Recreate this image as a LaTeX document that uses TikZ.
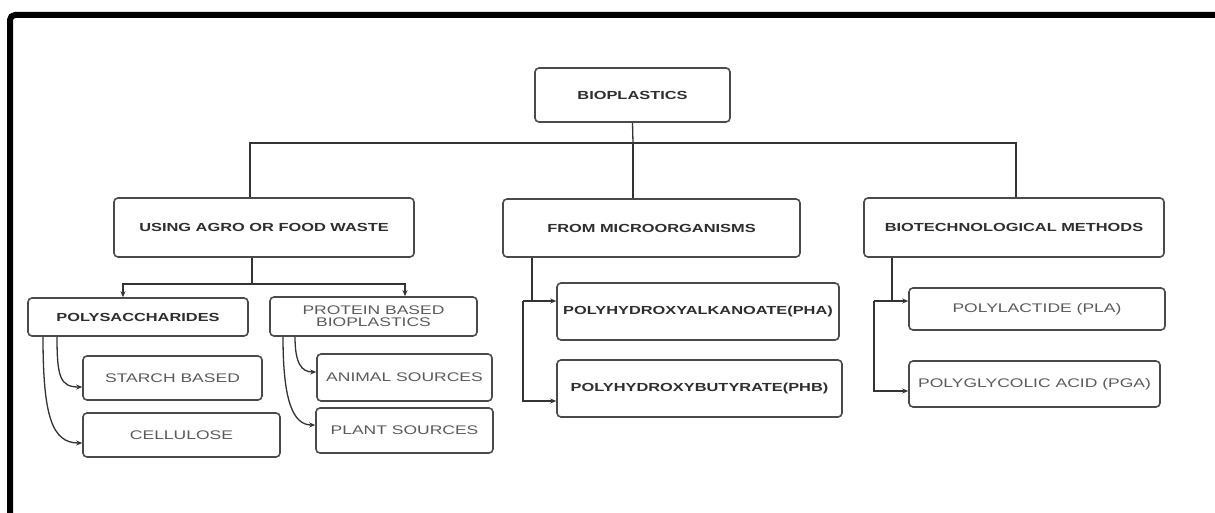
\documentclass[tikz,border=0pt]{standalone}
\usepackage{fontspec}
\setmainfont{Liberation Sans}
\newfontfamily\widefont{Liberation Sans}[FakeStretch=1.4]
\usetikzlibrary{arrows.meta}
\definecolor{boxline}{HTML}{4A4A4A}
\definecolor{linkline}{HTML}{333333}
\definecolor{headtext}{HTML}{2E2E2E}
\definecolor{subtext}{HTML}{5A5A5A}
\begin{document}
\begin{tikzpicture}[
x=1pt, y=-1pt,
box/.style={draw=boxline, line width=1.6pt, rounded corners=4pt, inner sep=0pt, align=center},
head/.style={box, text=headtext, font=\widefont\bfseries\fontsize{11.7}{13}\selectfont},
sub/.style={box, text=subtext, font=\widefont\fontsize{12.5}{12}\selectfont},
link/.style={draw=linkline, line width=1.3pt},
arr/.style={link, -{Stealth[length=6pt,width=5pt]}}
]
\useasboundingbox (0,0) rectangle (1215,513);
\draw[line width=6pt, rounded corners=5pt] (10,520) -- (10,15) -- (1220,15);

\node[head, minimum width=195pt, minimum height=54pt] (bio) at (632.5,95) {BIOPLASTICS};
\node[head, minimum width=300pt, minimum height=59pt] (agro) at (264,227.5) {USING AGRO OR FOOD WASTE};
\node[head, minimum width=297pt, minimum height=58pt] (micro) at (651.5,228) {FROM MICROORGANISMS};
\node[head, minimum width=300pt, minimum height=59pt] (biotech) at (1014,227.5) {BIOTECHNOLOGICAL METHODS};
\node[head, minimum width=220pt, minimum height=38pt] (poly) at (138,317) {POLYSACCHARIDES};
\node[sub, minimum width=207pt, minimum height=39pt] (protein) at (373.5,316.5) {PROTEIN BASED\\BIOPLASTICS};
\node[sub, minimum width=179pt, minimum height=44pt] (starch) at (172.5,378) {STARCH BASED};
\node[sub, minimum width=197pt, minimum height=44pt] (cellulose) at (181.5,435) {CELLULOSE};
\node[sub, minimum width=175pt, minimum height=47pt] (animal) at (404.5,377.5) {ANIMAL SOURCES};
\node[sub, minimum width=177pt, minimum height=45pt] (plant) at (404.5,430.5) {PLANT SOURCES};
\node[head, minimum width=282pt, minimum height=57pt] (pha) at (698,311.5) {POLYHYDROXYALKANOATE(PHA)};
\node[head, minimum width=285pt, minimum height=57pt] (phb) at (699.5,388.5) {POLYHYDROXYBUTYRATE(PHB)};
\node[sub, minimum width=256pt, minimum height=42pt] (pla) at (1037,309) {POLYLACTIDE (PLA)};
\node[sub, minimum width=251pt, minimum height=46pt] (pga) at (1034.5,384) {POLYGLYCOLIC ACID (PGA)};

\coordinate (hub) at (633,143);
\draw[link] (bio.south) -- (hub);
\draw[link] ([xshift=-14pt]agro.north) |- (hub) -| ([xshift=2pt]biotech.north);
\draw[link] (hub) -- (hub |- micro.north);

\coordinate (fork) at (252,284);
\draw[link] (fork |- agro.south) -- (fork);
\draw[arr] (fork) -| ([xshift=-15pt]poly.north);
\draw[arr] (fork) -| ([xshift=31.5pt]protein.north);

\draw[arr] ([xshift=-81pt]poly.south) .. controls +(0,40) and +(-22,0) .. ([yshift=-9pt]starch.west);
\draw[arr] ([xshift=-95pt]poly.south) .. controls +(0,80) and +(-30,0) .. ([yshift=-8pt]cellulose.west);
\draw[arr] ([xshift=-78.5pt]protein.south) .. controls +(0,26) and +(-15,0) .. ([yshift=5.5pt]animal.west);
\draw[arr] ([xshift=-90.5pt]protein.south) .. controls +(0,65) and +(-22,0) .. ([yshift=5.5pt]plant.west);

\coordinate (mjoin) at (523,301);
\draw[link] ([xshift=-119.5pt]micro.south) |- (mjoin);
\draw[arr] (mjoin) -- (mjoin -| pha.west);
\draw[arr] (mjoin) |- ([yshift=-12.5pt]phb.west);

\coordinate (bjoin) at (874,301);
\draw[link] ([xshift=-122pt]biotech.south) |- (bjoin);
\draw[arr] (bjoin) -- (bjoin -| pla.west);
\draw[arr] (bjoin) |- ([yshift=-7pt]pga.west);
\end{tikzpicture}
\end{document}
